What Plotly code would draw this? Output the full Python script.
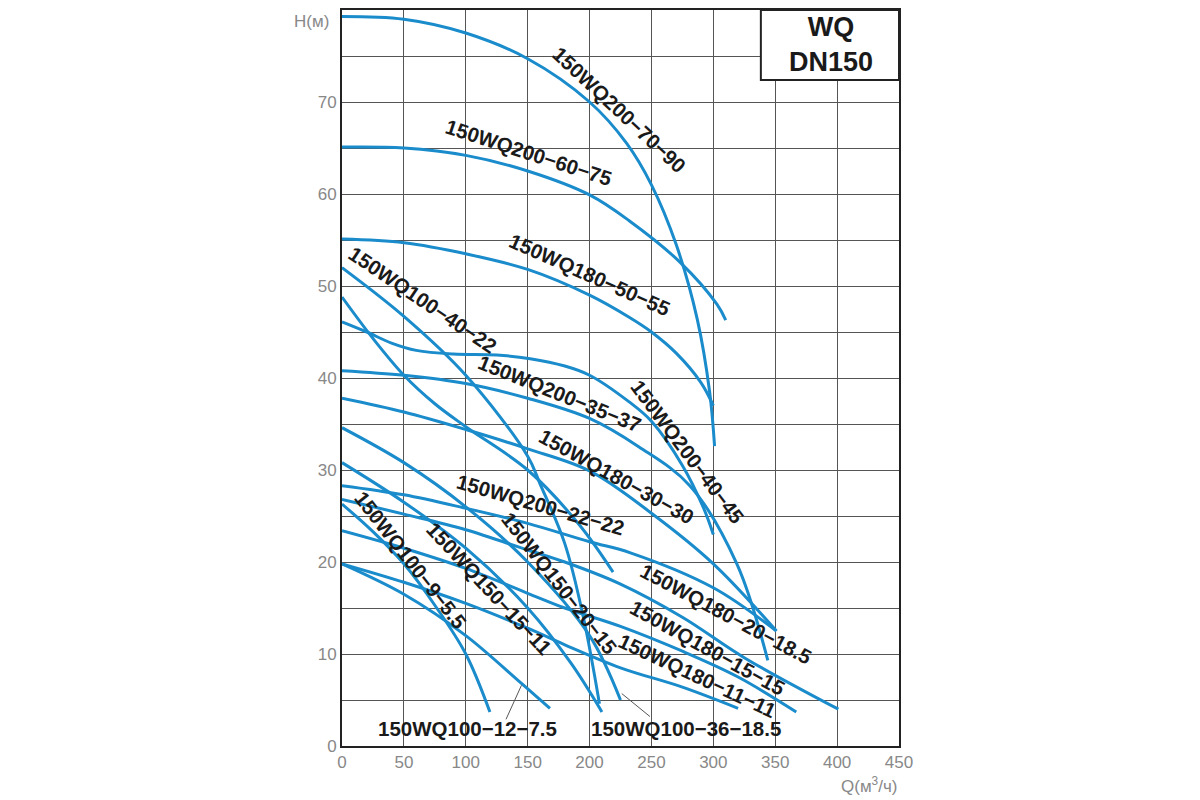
import plotly.graph_objects as go

# pump curves, Q (m3/h) vs H (m)
q_200_70_90 = [0, 50, 100, 150, 200, 230, 250, 270, 287, 297, 301]
h_200_70_90 = [79.3, 79.0, 77.5, 74.7, 70.0, 65.5, 61.0, 54.5, 46.4, 38.5, 32.6]

q_200_60_75 = [0, 50, 100, 150, 200, 232, 273, 303, 310]
h_200_60_75 = [65.1, 65.0, 64.2, 62.5, 59.9, 57.1, 52.6, 48.0, 46.3]

q_180_50_55 = [0, 50, 100, 150, 200, 232, 250, 270, 290, 300]
h_180_50_55 = [55.1, 54.7, 53.5, 51.8, 49.0, 46.6, 45.0, 42.7, 39.5, 37.0]

q_100_40_22 = [0, 50, 100, 150, 160, 180, 195, 208]
h_100_40_22 = [52.0, 46.7, 40.3, 31.5, 28.5, 22.0, 14.0, 4.6]

q_100_36_18 = [0, 25, 50, 75, 100, 150, 192, 219]
h_100_36_18 = [48.8, 44.3, 40.3, 37.2, 34.7, 30.0, 24.0, 18.9]

q_200_40_45 = [0, 20, 40, 60, 90, 125, 152, 180, 200, 232, 250, 275, 292, 300]
h_200_40_45 = [46.1, 45.0, 43.8, 43.0, 42.6, 42.5, 42.1, 41.3, 40.3, 37.4, 35.3, 30.5, 25.9, 23.0]

q_200_35_37 = [0, 50, 100, 150, 200, 240, 281, 319, 344]
h_200_35_37 = [40.8, 40.3, 39.4, 37.8, 35.6, 32.5, 28.3, 19.8, 9.3]

q_180_30_30 = [0, 50, 100, 150, 200, 250, 300, 351]
h_180_30_30 = [37.8, 36.3, 34.4, 32.3, 29.9, 25.3, 19.8, 12.5]

q_150_20_15 = [0, 50, 100, 150, 200, 225]
h_150_20_15 = [34.6, 30.8, 26.0, 20.0, 12.0, 5.0]

q_150_15_11 = [0, 50, 100, 150, 185, 210]
h_150_15_11 = [30.8, 26.5, 21.5, 15.0, 9.0, 3.7]

q_200_22_22 = [0, 50, 98, 150, 200, 233, 300, 351]
h_200_22_22 = [28.3, 27.3, 25.9, 24.2, 22.2, 21.0, 17.2, 12.5]

q_180_20_18 = [0, 50, 100, 150, 180, 225, 275, 325, 401]
h_180_20_18 = [26.8, 25.2, 23.5, 21.3, 20.0, 17.6, 14.0, 9.6, 4.0]

q_180_15_15 = [0, 50, 100, 150, 180, 225, 275, 320, 367]
h_180_15_15 = [23.4, 21.5, 19.3, 16.6, 15.0, 13.0, 10.3, 7.5, 3.7]

q_180_11_11 = [0, 50, 100, 150, 180, 225, 275, 320]
h_180_11_11 = [19.8, 17.8, 15.5, 12.8, 11.0, 8.5, 6.4, 4.1]

q_100_12_7 = [0, 50, 100, 145, 168]
h_100_12_7 = [19.8, 16.5, 12.0, 6.8, 4.1]

q_100_9_5 = [0, 25, 50, 75, 100, 119.5]
h_100_9_5 = [26.3, 23.3, 19.8, 15.3, 10.0, 3.7]

curves = [
    ("150WQ200-70-90", q_200_70_90, h_200_70_90),
    ("150WQ200-60-75", q_200_60_75, h_200_60_75),
    ("150WQ180-50-55", q_180_50_55, h_180_50_55),
    ("150WQ100-40-22", q_100_40_22, h_100_40_22),
    ("150WQ100-36-18.5", q_100_36_18, h_100_36_18),
    ("150WQ200-40-45", q_200_40_45, h_200_40_45),
    ("150WQ200-35-37", q_200_35_37, h_200_35_37),
    ("150WQ180-30-30", q_180_30_30, h_180_30_30),
    ("150WQ150-20-15", q_150_20_15, h_150_20_15),
    ("150WQ150-15-11", q_150_15_11, h_150_15_11),
    ("150WQ200-22-22", q_200_22_22, h_200_22_22),
    ("150WQ180-20-18.5", q_180_20_18, h_180_20_18),
    ("150WQ180-15-15", q_180_15_15, h_180_15_15),
    ("150WQ180-11-11", q_180_11_11, h_180_11_11),
    ("150WQ100-12-7.5", q_100_12_7, h_100_12_7),
    ("150WQ100-9-5.5", q_100_9_5, h_100_9_5),
]

# curve labels: text, Q, H (centre), angle
label_text = ["150WQ200−70−90", "150WQ200−60−75", "150WQ180−50−55", "150WQ100−40−22",
              "150WQ200−35−37", "150WQ200−40−45", "150WQ180−30−30", "150WQ200−22−22",
              "150WQ150−20−15", "150WQ150−15−11", "150WQ100−9−5.5", "150WQ180−20−18.5",
              "150WQ180−15−15", "150WQ180−11−11", "150WQ100−12−7.5", "150WQ100−36−18.5"]
label_q = [224, 151, 200, 65, 176, 279, 222, 160, 176, 119, 56, 310, 295, 287, 101, 278]
label_h = [69.2, 64.5, 51.2, 48.5, 38.3, 32.0, 29.3, 26.3, 17.7, 17.1, 20.2, 14.4, 10.7, 7.7, 1.9, 1.9]
label_angle = [43, 18, 24, 34, 22, 53, 29, 16, 52, 47, 52, 28, 29, 25, 0, 0]

# leader lines from the bottom labels to their curves
leader_q = [[145, 132.5], [226, 248.8]]
leader_h = [[6.6, 2.9], [5.7, 3.2]]

fig = go.Figure()

for name, q, h in curves:
    fig.add_trace(go.Scatter(x=q, y=h, mode='lines', name=name,
                             line=dict(color='#1a8bcb', width=3, shape='spline', smoothing=1.0)))

for lq, lh in zip(leader_q, leader_h):
    fig.add_trace(go.Scatter(x=lq, y=lh, mode='lines', line=dict(color='#555555', width=1),
                             hoverinfo='skip'))

for t, x, y, a in zip(label_text, label_q, label_h, label_angle):
    fig.add_annotation(x=x, y=y, text='<b>' + t + '</b>', textangle=a, showarrow=False,
                       font=dict(family='Liberation Sans, Arial', size=20.5, color='#1a1a1a'))

# WQ DN150 box
fig.add_shape(type='rect', x0=338.4, x1=450, y0=72.4, y1=80, layer='above',
              line=dict(color='#222222', width=2), fillcolor='white')
fig.add_annotation(x=395, y=76.2, text='<b>WQ<br>DN150</b>', showarrow=False,
                   font=dict(family='Liberation Sans, Arial', size=27, color='#1a1a1a'))

# axis titles
fig.add_annotation(xref='paper', yref='paper', x=-0.02, y=1.0, xanchor='right', yanchor='top',
                   text='H(м)', showarrow=False,
                   font=dict(family='Liberation Sans, Arial', size=17, color='#888888'))
fig.add_annotation(xref='paper', yref='paper', x=1.0, y=0, xanchor='right', yanchor='top',
                   yshift=-26, text='Q(м<sup>3</sup>/ч)', showarrow=False,
                   font=dict(family='Liberation Sans, Arial', size=17, color='#888888'))

fig.update_xaxes(range=[0, 450], dtick=50, showgrid=True, gridcolor='#555555', gridwidth=1,
                 zeroline=False, showline=True, linecolor='#222222', linewidth=2, mirror=True,
                 ticks='', tickfont=dict(family='Liberation Sans, Arial', size=17, color='#888888'))
fig.update_yaxes(range=[0, 80], tickvals=[0, 10, 20, 30, 40, 50, 60, 70], showgrid=True,
                 gridcolor='#555555', gridwidth=1,
                 minor=dict(dtick=5, showgrid=True, gridcolor='#555555', gridwidth=1),
                 zeroline=False, showline=True, linecolor='#222222', linewidth=2, mirror=True,
                 ticks='', tickfont=dict(family='Liberation Sans, Arial', size=17, color='#888888'))

fig.update_layout(width=1184, height=792, showlegend=False,
                  plot_bgcolor='white', paper_bgcolor='white',
                  margin=dict(l=334, r=293, t=0, b=54))

fig.write_html("out.html")
